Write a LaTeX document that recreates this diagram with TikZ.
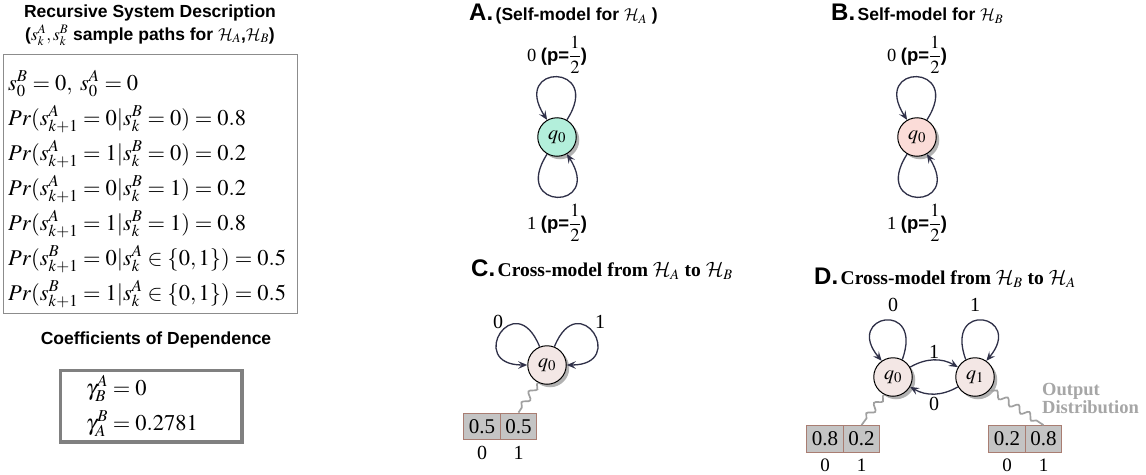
\documentclass[tikz,border=0pt]{standalone}
\usepackage{mathptmx}
\usepackage{fontspec}
\setmainfont{Liberation Serif}
\setsansfont{Liberation Sans}
\DeclareMathAlphabet{\mathcal}{OMS}{cmsy}{m}{n}
\usetikzlibrary{arrows.meta,shadows,decorations.pathmorphing}
\newcommand\myfs[2]{\fontsize{#1}{#2}\selectfont}
\newcommand\phalf{{\sffamily\bfseries (p=}$\displaystyle\frac{1}{2}${\sffamily\bfseries )}}
\definecolor{arrowc}{HTML}{2F3048}
\definecolor{mint}{HTML}{B3EFDB}
\definecolor{pinkb}{HTML}{FBDCD8}
\definecolor{pinkc}{HTML}{F3E7E5}
\definecolor{cellfill}{HTML}{C4C4C4}
\definecolor{cellline}{HTML}{A97D72}
\definecolor{wavec}{HTML}{A0A0A0}
\definecolor{gboxc}{HTML}{808080}
\definecolor{sysline}{HTML}{8C8C8C}
\definecolor{outc}{HTML}{A6A6A6}
\tikzset{
  st/.style={circle, draw=black, line width=1pt, minimum size=38.5pt, inner sep=0pt,
    font=\myfs{20}{20}, drop shadow={shadow xshift=3pt, shadow yshift=-3pt, opacity=0.3, fill=black}},
  tr/.style={draw=arrowc, line width=1.3pt, -{Stealth[length=9pt,width=7.5pt,inset=3.5pt]}},
  cell/.style={draw=cellline, fill=cellfill, line width=1.3pt, minimum width=36.5pt,
    minimum height=26.5pt, inner sep=0pt, font=\myfs{21}{21}},
  wave/.style={draw=wavec, line width=1.7pt, decorate,
    decoration={snake, amplitude=3.2pt, segment length=13pt, pre length=2pt, post length=5pt}},
  eq/.style={anchor=base west, inner sep=0pt, font=\myfs{22.5}{26}},
  lbl/.style={font=\myfs{20}{20}, inner sep=1pt},
  plbl/.style={font=\myfs{18.5}{20}, inner sep=0pt},
  ptitle/.style={anchor=west, inner sep=0pt},
  big/.style={font=\sffamily\bfseries\myfs{17.5}{23}, align=center}
}
\begin{document}
\begin{tikzpicture}[x=1pt,y=-1pt]
\fill[white] (0,0) rectangle (1146,474);
\useasboundingbox (0,0) rectangle (1146,474);

% ---------- left column ----------
\node[big] (title) at (150,25) {Recursive System Description\\($s_k^A, s_k^B$ sample paths for $\mathcal{H}_A$,$\mathcal{H}_B$)};
\node[draw=sysline, line width=0.9pt, minimum width=294pt, minimum height=259pt, anchor=north west, inner sep=0pt] (sysbox) at (3,54) {};
\node[eq] (e0) at (8,90) {$s_0^B = 0,\; s_0^A = 0$};
\node[eq] (e1) at (8,125) {$Pr(s_{k+1}^A = 0|s_k^B = 0) = 0.8$};
\node[eq] (e2) at (8,160) {$Pr(s_{k+1}^A = 1|s_k^B = 0) = 0.2$};
\node[eq] (e3) at (8,195) {$Pr(s_{k+1}^A = 0|s_k^B = 1) = 0.2$};
\node[eq] (e4) at (8,230) {$Pr(s_{k+1}^A = 1|s_k^B = 1) = 0.8$};
\node[eq] (e5) at (8,265) {$Pr(s_{k+1}^B = 0|s_k^A \in \{0,1\}) = 0.5$};
\node[eq] (e6) at (8,300) {$Pr(s_{k+1}^B = 1|s_k^A \in \{0,1\}) = 0.5$};

\node[big] (coef) at (156,340) {Coefficients of Dependence};
\node[draw=gboxc, line width=3.5pt, minimum width=181.5pt, minimum height=71.5pt, anchor=north west, inner sep=0pt] (gbox) at (58.75,368.75) {};
\node[eq] (g1) at (86,395) {$\gamma_B^A = 0$};
\node[eq] (g2) at (86,430) {$\gamma_A^B = 0.2781$};

% ---------- panel A ----------
\node[ptitle] (ta) at (469,14) {{\sffamily\bfseries\myfs{24}{26}A.} {\sffamily\bfseries\myfs{17.5}{20}(Self-model for $\mathcal{H}_A$ )}};
\node[st, fill=mint] (qa) at (557,137) {$q_0$};
\draw[tr] (qa.60) .. controls +(57:68pt) and +(123:68pt) .. (qa.120);
\draw[tr] (qa.240) .. controls +(237:68pt) and +(303:68pt) .. (qa.300);
\node[plbl] (la0) at (557,55) {0 \phalf};
\node[plbl] (la1) at (557,223) {1 \phalf};

% ---------- panel B ----------
\node[ptitle] (tb) at (831,14) {{\sffamily\bfseries\myfs{24}{26}B.} {\sffamily\bfseries\myfs{17.5}{20}Self-model for $\mathcal{H}_B$}};
\node[st, fill=pinkb] (qb) at (917,137) {$q_0$};
\draw[tr] (qb.60) .. controls +(57:68pt) and +(123:68pt) .. (qb.120);
\draw[tr] (qb.240) .. controls +(237:68pt) and +(303:68pt) .. (qb.300);
\node[plbl] (lb0) at (917,55) {0 \phalf};
\node[plbl] (lb1) at (917,223) {1 \phalf};

% ---------- panel C ----------
\node[ptitle] (tc) at (471,270) {{\sffamily\bfseries\myfs{24}{26}C.} {\rmfamily\bfseries\myfs{19.5}{22}Cross-model from $\mathcal{H}_A$ to $\mathcal{H}_B$}};
\node[st, fill=pinkc] (qc) at (547,365) {$q_0$};
\draw[tr] (qc.112) .. controls +(112:66pt) and +(180:62pt) .. (qc.180);
\draw[tr] (qc.68) .. controls +(68:66pt) and +(0:62pt) .. (qc.0);
\node[lbl] (lc0) at (498,322) {0};
\node[lbl] (lc1) at (600,322) {1};
\node[cell] (c1) at (482,426.5) {0.5};
\node[cell] (c2) at (518.5,426.5) {0.5};
\node[lbl] (lc2) at (482,453) {0};
\node[lbl] (lc3) at (518.5,453) {1};
\draw[wave] (qc.-117) -- (c2.north);

% ---------- panel D ----------
\node[ptitle] (td) at (814,278) {{\sffamily\bfseries\myfs{24}{26}D.} {\rmfamily\bfseries\myfs{19.5}{22}Cross-model from $\mathcal{H}_B$ to $\mathcal{H}_A$}};
\node[st, fill=pinkc] (d0) at (893,377) {$q_0$};
\node[st, fill=pinkc] (d1) at (975,377) {$q_1$};
\draw[tr] (d0.62) .. controls +(70:64pt) and +(130:60pt) .. (d0.125);
\draw[tr] (d1.118) .. controls +(110:64pt) and +(50:60pt) .. (d1.55);
\draw[tr] (d0) to[bend left=30] node[lbl, above] (ld01) {1} (d1);
\draw[tr] (d1) to[bend left=30] node[lbl, below=2pt] (ld10) {0} (d0);
\node[lbl] (ld0) at (893,305) {0};
\node[lbl] (ld1) at (975,305) {1};
\node[cell] (d2) at (825,439) {0.8};
\node[cell] (d3) at (861.5,439) {0.2};
\node[cell] (d4) at (1007,439) {0.2};
\node[cell] (d5) at (1043.5,439) {0.8};
\node[lbl, font=\myfs{19}{19}] (ld2) at (825,465) {0};
\node[lbl, font=\myfs{19}{19}] (ld3) at (861.5,465) {1};
\node[lbl, font=\myfs{19}{19}] (ld4) at (1007,465) {0};
\node[lbl, font=\myfs{19}{19}] (ld5) at (1043.5,465) {1};
\draw[wave] (d0.-117) -- (d3.north);
\draw[wave] (d1.-40) -- (d5.north);
\node[anchor=base west, inner sep=0pt, align=left, text=outc, font=\rmfamily\bfseries\myfs{18.5}{15}] (outd) at (1042,413) {Output\\Distribution};
\end{tikzpicture}
\end{document}
